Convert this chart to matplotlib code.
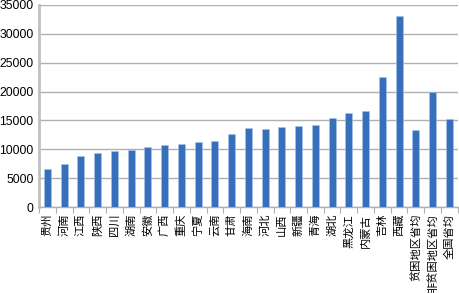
import matplotlib.pyplot as plt
import numpy as np

plt.rcParams['font.family'] = ['Noto Sans CJK SC', 'DejaVu Sans']

provinces = ['贵州', '河南', '江西', '陕西', '四川', '湖南', '安徽', '广西', '重庆', '宁夏',
             '云南', '甘肃', '海南', '河北', '山西', '新疆', '青海', '湖北', '黑龙江', '内蒙古',
             '吉林', '西藏', '贫困地区省均', '非贫困地区省均', '全国省均']
values = [6600, 7400, 8780, 9410, 9650, 9930, 10340, 10740, 10920, 11320,
          11440, 12600, 13630, 13570, 13860, 13980, 14210, 15370, 16240, 16580,
          22470, 33040, 13290, 19930, 15250]
yticks = [0, 5000, 10000, 15000, 20000, 25000, 30000, 35000]

fig = plt.figure(figsize=(4.6, 2.93), dpi=100)
ax = fig.add_axes([0.085, 0.2935, 0.91, 0.6895])

x = np.arange(len(provinces))
ax.bar(x, values, width=0.42, color='#3670bd', edgecolor='#a9c4e8', linewidth=0.4, zorder=3)

ax.set_xlim(-0.5, len(provinces) - 0.5)
ax.set_ylim(0, 35000)
ax.set_yticks(yticks)
ax.set_yticklabels([str(v) for v in yticks], fontsize=8.8, family='Liberation Sans')
ax.tick_params(axis='y', length=0, pad=4)
ax.yaxis.grid(True, color='#b0b0b0', linewidth=1.0, zorder=0)

# rotated labels, read bottom to top
ax.set_xticks(x)
ax.set_xticklabels(provinces, fontsize=8.1, rotation=90, va='top', ha='center')
ax.tick_params(axis='x', length=0, pad=5)
ax.set_xticks(np.arange(-0.5, len(provinces), 1), minor=True)
ax.tick_params(axis='x', which='minor', length=4, color='#b0b0b0', width=0.8)

for s in ['top', 'right']:
    ax.spines[s].set_visible(False)
ax.spines['left'].set_color('#c0c0c0')
ax.spines['left'].set_linewidth(2)
ax.spines['bottom'].set_color('#b0b0b0')
ax.spines['bottom'].set_linewidth(1)

fig.savefig('out.png', dpi=100)
